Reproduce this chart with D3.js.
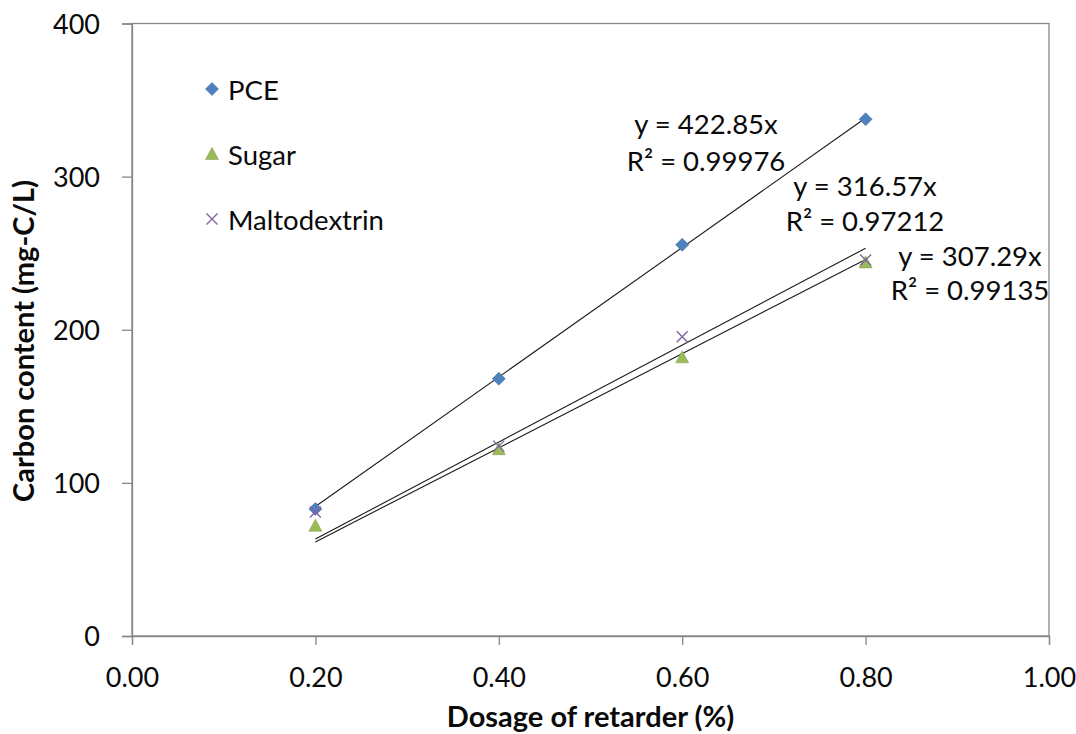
<!DOCTYPE html>
<html>
<head>
<meta charset="utf-8">
<script src="https://cdn.jsdelivr.net/npm/d3@7"></script>
<style>
  html, body { margin: 0; padding: 0; background: #fff; }
  svg { display: block; font-family: Lato, "Open Sans", sans-serif; }
</style>
</head>
<body>
<svg id="chart" width="1076" height="734"></svg>
<script>
// Dosage of retarder (%) at which carbon content was measured
const dosages = [0.2, 0.4, 0.6, 0.8];

// Carbon content (mg-C/L) per retarder
const pceValues = [83, 168, 255.5, 337.5];
const sugarValues = [72, 122, 182, 244];
const maltodextrinValues = [81, 124, 195.5, 245.5];

const seriesNames = ["PCE", "Sugar", "Maltodextrin"];
const seriesColors = ["#4F81BD", "#9BBB59", "#8064A2"];

// Linear trendlines forced through the origin (y = a·x)
const trendSlopes = [422.85, 307.29, 316.57];
const trendR2 = ["0.99976", "0.99135", "0.97212"];

const xTicks = [0, 0.2, 0.4, 0.6, 0.8, 1.0];
const yTicks = [0, 100, 200, 300, 400];

const series = seriesNames.map((name, i) => ({
  name,
  color: seriesColors[i],
  values: [pceValues, sugarValues, maltodextrinValues][i],
  slope: trendSlopes[i],
  r2: trendR2[i]
}));

const svg = d3.select("#chart");
const plotLeft = 132, plotRight = 1049, plotTop = 23.5, plotBottom = 636;

const x = d3.scaleLinear().domain([0, 1]).range([plotLeft, plotRight]);
const y = d3.scaleLinear().domain([0, 400]).range([plotBottom, plotTop]);

const axisColor = "#878787";
const textColor = "#0a0a0a";

// Plot frame
svg.append("rect")
  .attr("x", plotLeft).attr("y", plotTop)
  .attr("width", plotRight - plotLeft).attr("height", plotBottom - plotTop)
  .attr("fill", "none").attr("stroke", axisColor).attr("stroke-width", 1.3);

// Axes
const xAxis = svg.append("g")
  .attr("transform", `translate(0,${plotBottom})`)
  .call(d3.axisBottom(x).tickValues(xTicks).tickFormat(d3.format(".2f")).tickSize(9).tickPadding(23));
const yAxis = svg.append("g")
  .attr("transform", `translate(${plotLeft},0)`)
  .call(d3.axisLeft(y).tickValues(yTicks).tickFormat(d3.format("d")).tickSize(10).tickPadding(22));

[xAxis, yAxis].forEach(g => {
  g.select(".domain").attr("stroke", axisColor).attr("stroke-width", 1.3);
  g.selectAll(".tick line").attr("stroke", axisColor).attr("stroke-width", 1.3);
  g.selectAll(".tick text")
    .attr("fill", textColor)
    .style("font-family", "Lato, sans-serif")
    .style("font-size", "27px");
});
yAxis.selectAll(".tick text").attr("dy", "0.36em");
xAxis.selectAll(".tick text").attr("dy", "0.71em");

// Axis titles
svg.append("text")
  .attr("x", (plotLeft + plotRight) / 2).attr("y", 727)
  .attr("text-anchor", "middle")
  .attr("font-weight", "bold").attr("font-size", 29).attr("fill", textColor)
  .text("Dosage of retarder (%)");

svg.append("text")
  .attr("transform", `translate(34,341) rotate(-90)`)
  .attr("text-anchor", "middle")
  .attr("font-weight", "bold").attr("font-size", 29).attr("fill", textColor)
  .text("Carbon content (mg-C/L)");

// Trendlines over the measured dosage range
const [xMin, xMax] = d3.extent(dosages);
series.forEach(s => {
  svg.append("line")
    .attr("x1", x(xMin)).attr("y1", y(s.slope * xMin))
    .attr("x2", x(xMax)).attr("y2", y(s.slope * xMax))
    .attr("stroke", "#1a1a1a").attr("stroke-width", 1.1);
});

// Marker shapes
function drawMarker(g, kind, color) {
  if (kind === 0) {
    g.append("path").attr("d", "M0,-6.5L6.5,0L0,6.5L-6.5,0Z")
      .attr("fill", color).attr("stroke", "#3f6fa8").attr("stroke-width", 0.6);
  } else if (kind === 1) {
    g.append("path").attr("d", "M0,-6.5L6.5,5.5L-6.5,5.5Z")
      .attr("fill", color).attr("stroke", "#86a64a").attr("stroke-width", 0.6);
  } else {
    g.append("path").attr("d", "M-5.5,-5.5L5.5,5.5M-5.5,5.5L5.5,-5.5")
      .attr("fill", "none").attr("stroke", color).attr("stroke-width", 1.4);
  }
}

// Data points (PCE drawn first, then sugar, then maltodextrin on top)
series.forEach((s, i) => {
  s.values.forEach((v, j) => {
    const g = svg.append("g").attr("transform", `translate(${x(dosages[j])},${y(v)})`);
    drawMarker(g, i, s.color);
  });
});

// Trendline equations
const labelPos = [
  { cx: 706, y1: 134, y2: 171 },
  { cx: 970, y1: 266, y2: 300 },
  { cx: 865, y1: 196, y2: 231 }
];
series.forEach((s, i) => {
  const p = labelPos[i];
  svg.append("text").attr("x", p.cx).attr("y", p.y1)
    .attr("text-anchor", "middle").attr("font-size", 27.5).attr("fill", textColor)
    .text(`y = ${s.slope.toFixed(2)}x`);
  svg.append("text").attr("x", p.cx).attr("y", p.y2)
    .attr("text-anchor", "middle").attr("font-size", 27.5).attr("fill", textColor)
    .text(`R² = ${s.r2}`);
});

// Legend
const legend = svg.append("g");
series.forEach((s, i) => {
  const cy = 89 + i * 65;
  const g = legend.append("g").attr("transform", `translate(212,${cy})`);
  drawMarker(g, i, s.color);
  legend.append("text")
    .attr("x", 228).attr("y", cy + 11)
    .attr("font-size", 27.5).attr("fill", textColor)
    .text(s.name);
});
</script>
</body>
</html>
